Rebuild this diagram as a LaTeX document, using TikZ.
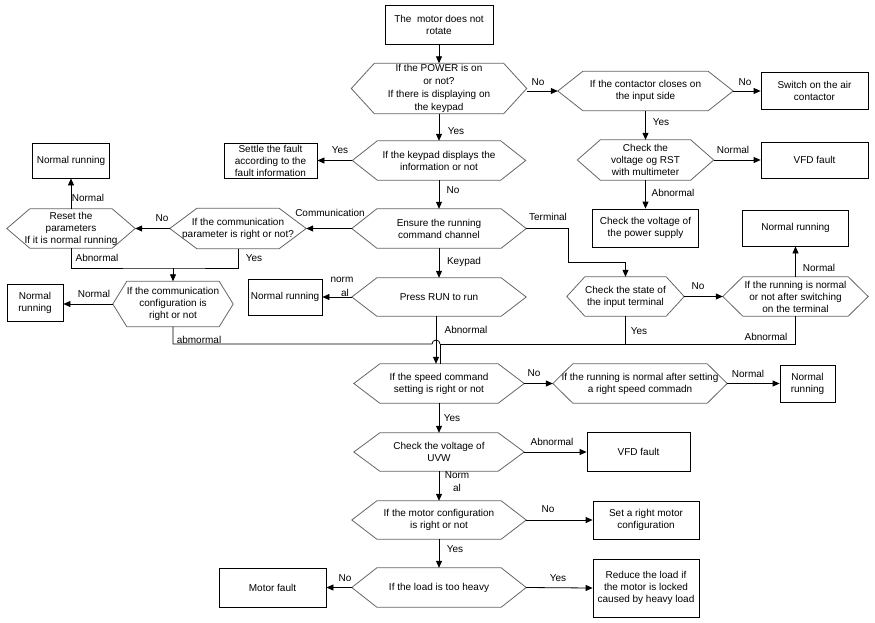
\documentclass[tikz,border=0pt]{standalone}
\usepackage{fontspec}
\setmainfont{Liberation Sans}
\usetikzlibrary{arrows.meta,calc}
\begin{document}
\begin{tikzpicture}[x=1pt,y=-1pt,
  txt/.style={font=\fontsize{10}{12}\selectfont, align=center, inner sep=0pt},
  box/.style={txt, draw=black, line width=0.8pt},
  hexa/.style={txt},
  lbl/.style={font=\fontsize{10}{12}\selectfont, inner sep=0pt, align=center},
  conn/.style={line width=0.8pt, -{Triangle[length=7pt,width=6pt]}},
  plain/.style={line width=0.8pt},
  hexline/.style={draw=black!60, line width=0.8pt},
]
\useasboundingbox[fill=white] (0,0) rectangle (875,622);

% nodes
\node[box, minimum width=108pt, minimum height=39pt] (start) at (439,24.5) {The\ \ motor does not\\rotate};
\node[hexa, minimum width=175pt, minimum height=50pt, font=\fontsize{10}{13}\selectfont] (h1) at (439,88.5) {If the POWER is on\\or not?\\If there is displaying on\\the keypad};
\node[hexa, minimum width=175pt, minimum height=39pt] (h2) at (645.5,91) {If the contactor closes on\\the input side};
\node[box, minimum width=107pt, minimum height=37pt] (air) at (814.5,91) {Switch on the air\\contactor};
\node[hexa, minimum width=136pt, minimum height=40pt] (h3) at (645.5,160) {Check the\\voltage og RST\\with multimeter};
\node[box, minimum width=107pt, minimum height=36pt] (vfd1) at (814.5,160) {VFD fault};
\node[box, minimum width=106pt, minimum height=38pt] (psup) at (645.5,228) {Check the voltage of\\the power supply};
\node[hexa, minimum width=173pt, minimum height=39pt] (h4) at (439,160.5) {If the keypad displays the\\information or not};
\node[box, minimum width=93pt, minimum height=35pt] (settle) at (270.5,160.5) {Settle the fault\\according to the\\fault information};
\node[hexa, minimum width=174pt, minimum height=39pt] (h5) at (439,228.5) {Ensure the running\\command channel};
\node[hexa, minimum width=136pt, minimum height=40pt] (h6) at (238,228.5) {If the communication\\parameter is right or not?};
\node[hexa, minimum width=128pt, minimum height=39pt] (h7) at (71,228.5) {Reset the\\parameters\\If it is normal running};
\node[box, minimum width=77pt, minimum height=35pt] (nr1) at (71,160.5) {Normal running};
\node[hexa, minimum width=120pt, minimum height=45pt] (h8) at (173,304) {If the communication\\configuration is\\right or not};
\node[box, minimum width=56pt, minimum height=37pt] (nr2) at (35,302.5) {Normal\\running};
\node[box, minimum width=74pt, minimum height=36pt] (nr3) at (285,297) {Normal running};
\node[hexa, minimum width=174pt, minimum height=38pt] (h9) at (439,297) {Press RUN to run};
\node[hexa, minimum width=117pt, minimum height=39pt] (h10) at (625.5,296.5) {Check the state of\\the input terminal};
\node[hexa, minimum width=145pt, minimum height=39pt] (h11) at (795.5,296.5) {If the running is normal\\or not after switching\\on the terminal};
\node[box, minimum width=106pt, minimum height=36pt] (nr4) at (795.5,228) {Normal running};
\node[hexa, minimum width=170pt, minimum height=39pt] (h12) at (439,383.5) {If the speed command\\setting is right or not};
\node[hexa, minimum width=174pt, minimum height=39pt] (h13) at (640,383.5) {If the running is normal after setting\\a right speed commadn};
\node[box, minimum width=55pt, minimum height=37pt] (nr5) at (807.5,383.5) {Normal\\running};
\node[hexa, minimum width=170pt, minimum height=38pt] (h14) at (439,452) {Check the voltage of\\UVW};
\node[box, minimum width=103pt, minimum height=39pt] (vfd2) at (638.5,452) {VFD fault};
\node[hexa, minimum width=174pt, minimum height=38pt] (h15) at (439,520) {If the motor configuration\\is right or not};
\node[box, minimum width=106pt, minimum height=38pt] (setm) at (646,520) {Set a right motor\\configuration};
\node[hexa, minimum width=174pt, minimum height=39pt] (h16) at (439,587.5) {If the load is too heavy};
\node[box, minimum width=107pt, minimum height=39pt] (mfault) at (272.5,587.5) {Motor fault};
\node[box, minimum width=106pt, minimum height=58pt] (reduce) at (646,588) {Reduce the load if\\the motor is locked\\caused by heavy load};

% hexagon outlines
\foreach \n/\d in {h1/23,h2/25,h3/23,h4/25,h5/25,h6/27,h7/23,h8/14,h9/25,h10/18,h11/20,h12/26,h13/20,h14/26,h15/25,h16/25}
  \draw[hexline] (\n.west) -- ([xshift=\d pt]\n.north west) -- ([xshift=-\d pt]\n.north east) -- (\n.east)
    -- ([xshift=-\d pt]\n.south east) -- ([xshift=\d pt]\n.south west) -- cycle;

% helper coordinates
\coordinate (tbend) at (568,262);
\coordinate (jy) at (173,268);
\coordinate (hopL) at (432,344);
\coordinate (my) at (440,344);

% connectors
\draw[conn] (start.south) -- (h1.north);
\draw[conn] (h1.east |- h2.west) -- (h2.west);
\draw[conn] (h2.east) -- (air.west);
\draw[conn] (h2.south) -- (h3.north);
\draw[conn] (h3.east) -- (vfd1.west);
\draw[conn] (h3.south) -- (psup.north);
\draw[conn] (h1.south) -- (h4.north);
\draw[conn] (h4.west) -- (settle.east);
\draw[conn] (h4.south) -- (h5.north);
\draw[conn] (h5.west) -- (h6.east);
\draw[conn] (h6.west) -- (h7.east);
\draw[conn] (h7.north) -- (nr1.south);
\draw[plain] (h7.south) |- (jy) -| (h6.south);
\draw[conn] (jy) -- (h8.north);
\draw[conn] (h8.west) -- (h8.west -| nr2.east);
\draw[conn] (h5.south) -- (h9.north);
\draw[conn] (h9.west) -- (nr3.east);
\draw[conn] (h5.east) -| (tbend) -| (h10.north);
\draw[conn] (h10.east) -- (h11.west);
\draw[conn] (h11.north) -- (nr4.south);
\draw[plain] (h10.south) |- (my);
\draw[plain] (h11.south) |- (my);
\draw[plain] (h8.south) |- (hopL) arc[start angle=180,end angle=0,radius=4pt] -- (my);
\draw[plain] (my) -- (my |- h12.north);
\draw[conn] ([xshift=-3pt]h9.south) -- ([xshift=-3pt]h12.north);
\draw[conn] (h12.east) -- (h13.west);
\draw[conn] (h13.east) -- (nr5.west);
\draw[conn] (h12.south) -- (h14.north);
\draw[conn] (h14.east) -- (vfd2.west);
\draw[conn] (h14.south) -- (h15.north);
\draw[conn] (h15.east) -- (setm.west);
\draw[conn] (h15.south) -- (h16.north);
\draw[conn] (h16.west) -- (mfault.east);
\draw[conn] (h16.east) -- (reduce.west);

% labels
\node[lbl] (l1) at (538,82) {No};
\node[lbl] (l2) at (745,82) {No};
\node[lbl] (l3) at (661,122) {Yes};
\node[lbl] (l4) at (733,150) {Normal};
\node[lbl] (l5) at (673,193) {Abnormal};
\node[lbl] (l6) at (456,131) {Yes};
\node[lbl] (l7) at (340,150) {Yes};
\node[lbl] (l8) at (453,190) {No};
\node[lbl] (l9) at (330,213) {Communication};
\node[lbl] (l10) at (162,218) {No};
\node[lbl] (l11) at (88,198) {Normal};
\node[lbl] (l12) at (97,258) {Abnormal};
\node[lbl] (l13) at (254,258) {Yes};
\node[lbl] (l14) at (94,294) {Normal};
\node[lbl] (l15) at (199,340) {abmormal};
\node[lbl] (l16) at (464,262) {Keypad};
\node[lbl] (l17) at (342,280) {norm};
\node[lbl] (l18) at (345,293) {al};
\node[lbl] (l19) at (466,330) {Abnormal};
\node[lbl] (l20) at (548,217) {Terminal};
\node[lbl] (l21) at (698,286) {No};
\node[lbl] (l22) at (819,268) {Normal};
\node[lbl] (l23) at (639,331) {Yes};
\node[lbl] (l24) at (766,337) {Abnormal};
\node[lbl] (l25) at (534,373) {No};
\node[lbl] (l26) at (748,374) {Normal};
\node[lbl] (l27) at (452,418) {Yes};
\node[lbl] (l28) at (552,442) {Abnormal};
\node[lbl] (l29) at (457,475) {Norm};
\node[lbl] (l30) at (457,488) {al};
\node[lbl] (l31) at (548,509) {No};
\node[lbl] (l32) at (455,549) {Yes};
\node[lbl] (l33) at (345,578) {No};
\node[lbl] (l34) at (558,578) {Yes};
\end{tikzpicture}
\end{document}
